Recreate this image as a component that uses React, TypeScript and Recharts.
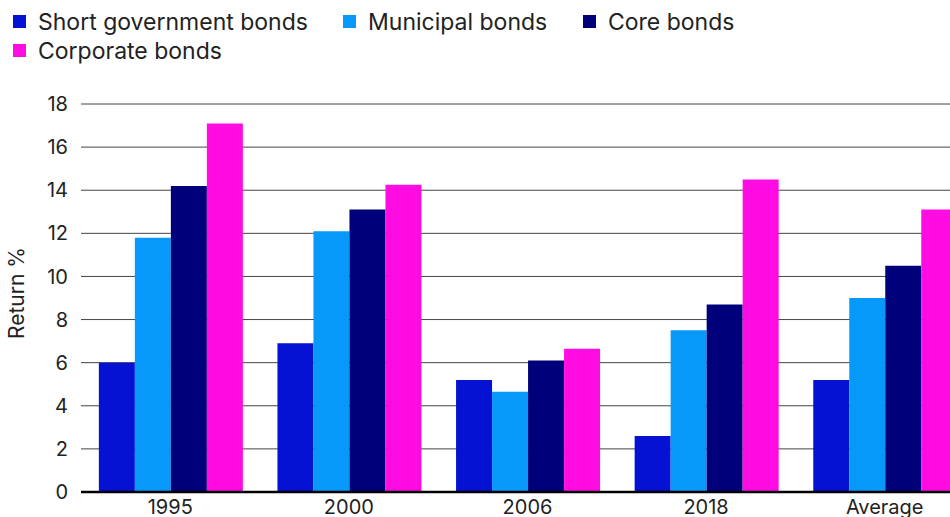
import { BarChart, Bar, XAxis, YAxis, CartesianGrid } from 'recharts';

const periods = ['1995', '2000', '2006', '2018', 'Average'];
const shortGov = [6.0, 6.9, 5.2, 2.6, 5.2];
const municipal = [11.8, 12.1, 4.65, 7.5, 9.0];
const core = [14.2, 13.1, 6.1, 8.7, 10.5];
const corporate = [17.1, 14.25, 6.65, 14.5, 13.1];
const yTicks = [0, 2, 4, 6, 8, 10, 12, 14, 16, 18];

const series = [
  { key: 'shortGov', name: 'Short government bonds', color: '#0511D3' },
  { key: 'municipal', name: 'Municipal bonds', color: '#0699FA' },
  { key: 'core', name: 'Core bonds', color: '#00007A' },
  { key: 'corporate', name: 'Corporate bonds', color: '#FF0CE2' },
];

const data = periods.map((p, i) => ({
  period: p,
  shortGov: shortGov[i],
  municipal: municipal[i],
  core: core[i],
  corporate: corporate[i],
}));

const font = 'Inter, "Noto Sans", sans-serif';
const textColor = '#222';

function YLabel({ viewBox }: any) {
  const cy = viewBox.y + viewBox.height / 2 - 5;
  return (
    <text x={16} y={cy} transform={`rotate(-90 16 ${cy})`} textAnchor="middle" dominantBaseline="central"
      fill={textColor} fontSize={21} fontFamily={font}>
      Return %
    </text>
  );
}

function LegendItem({ name, color, width }: { name: string; color: string; width?: number }) {
  return (
    <div style={{ display: 'flex', alignItems: 'center', width }}>
      <span style={{ width: 13, height: 13, background: color, marginRight: 12, display: 'inline-block' }} />
      <span style={{ fontSize: 23, color: textColor, whiteSpace: 'nowrap' }}>{name}</span>
    </div>
  );
}

export default function App() {
  return (
    <div style={{ position: 'fixed', left: 0, top: 0, width: 950, height: 517, overflow: 'hidden', background: '#fff', fontFamily: font }}>
      <div style={{ position: 'absolute', left: 13, top: 7, width: 930 }}>
        <div style={{ display: 'flex', height: 29 }}>
          <LegendItem name={series[0].name} color={series[0].color} width={330} />
          <LegendItem name={series[1].name} color={series[1].color} width={240} />
          <LegendItem name={series[2].name} color={series[2].color} />
        </div>
        <div style={{ display: 'flex', height: 29 }}>
          <LegendItem name={series[3].name} color={series[3].color} />
        </div>
      </div>
      <BarChart width={974} height={517} data={data} margin={{ top: 104, right: 0, bottom: 0, left: 0 }}
        barCategoryGap="10%" barGap={0}>
        <CartesianGrid vertical={false} stroke="#444" />
        <XAxis dataKey="period" tickLine={false} tickSize={0} tickMargin={8} height={25}
          axisLine={{ stroke: '#000', strokeWidth: 2.5 }}
          tick={{ fill: textColor, fontSize: 20, fontFamily: font }} />
        <YAxis domain={[0, 18]} ticks={yTicks} width={81} tickLine={false} axisLine={false} tickSize={0} tickMargin={13}
          tick={{ fill: textColor, fontSize: 20, fontFamily: font }} label={<YLabel />} />
        {series.map((s) => (
          <Bar key={s.key} dataKey={s.key} name={s.name} fill={s.color} isAnimationActive={false} />
        ))}
      </BarChart>
    </div>
  );
}
